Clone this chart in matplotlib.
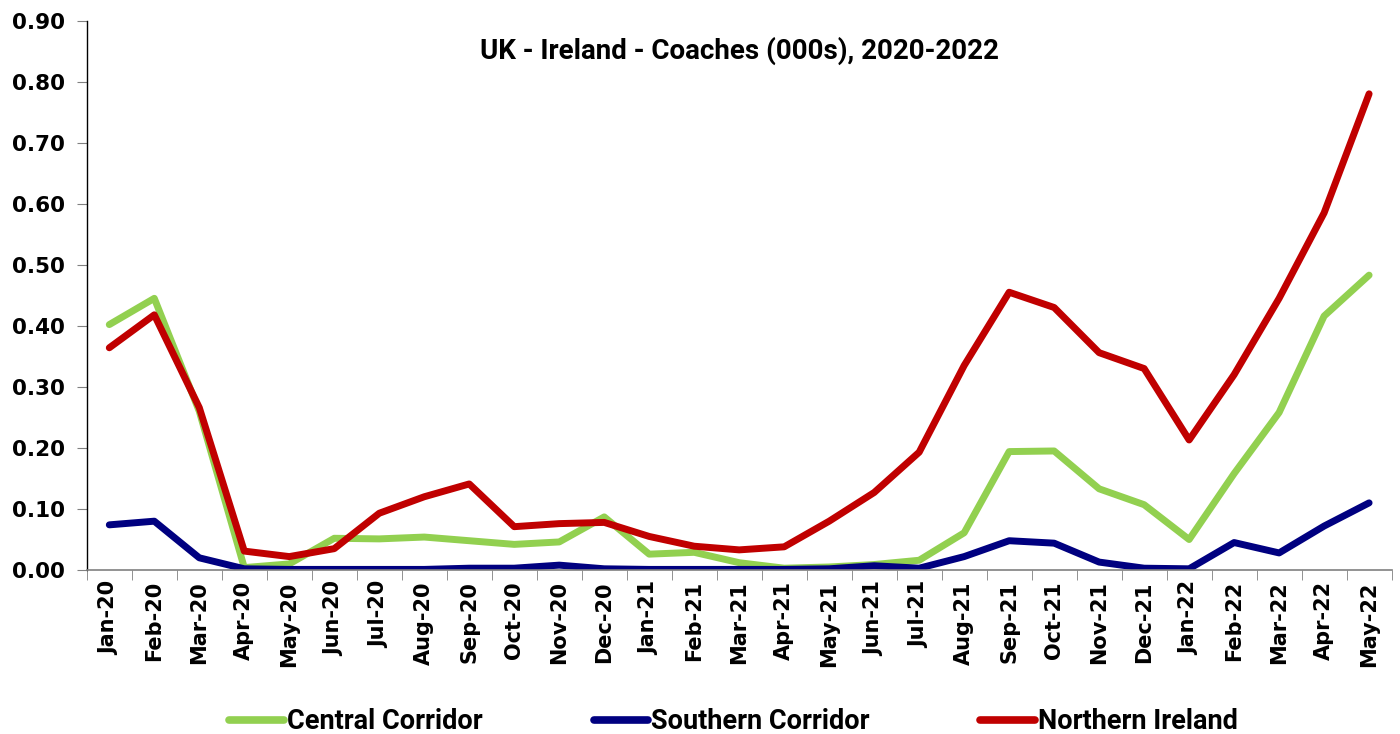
import matplotlib
matplotlib.use("Agg")
import matplotlib.pyplot as plt
from matplotlib.lines import Line2D

months = ["Jan-20", "Feb-20", "Mar-20", "Apr-20", "May-20", "Jun-20", "Jul-20", "Aug-20",
          "Sep-20", "Oct-20", "Nov-20", "Dec-20", "Jan-21", "Feb-21", "Mar-21", "Apr-21",
          "May-21", "Jun-21", "Jul-21", "Aug-21", "Sep-21", "Oct-21", "Nov-21", "Dec-21",
          "Jan-22", "Feb-22", "Mar-22", "Apr-22", "May-22"]

central = [0.402, 0.445, 0.260, 0.004, 0.010, 0.052, 0.051, 0.054, 0.048, 0.042,
           0.046, 0.087, 0.026, 0.029, 0.012, 0.003, 0.005, 0.009, 0.016, 0.061,
           0.194, 0.195, 0.133, 0.107, 0.050, 0.158, 0.258, 0.416, 0.483]
southern = [0.074, 0.080, 0.020, 0.002, 0.001, 0.001, 0.001, 0.001, 0.003, 0.003,
            0.008, 0.002, 0.001, 0.001, 0.001, 0.001, 0.002, 0.007, 0.003, 0.022,
            0.048, 0.044, 0.013, 0.003, 0.002, 0.045, 0.028, 0.072, 0.110]
northern = [0.364, 0.418, 0.266, 0.031, 0.022, 0.035, 0.093, 0.120, 0.141, 0.071,
            0.076, 0.078, 0.055, 0.039, 0.033, 0.038, 0.080, 0.127, 0.193, 0.335,
            0.455, 0.430, 0.356, 0.330, 0.213, 0.320, 0.445, 0.585, 0.780]

series_names = ["Central Corridor", "Southern Corridor", "Northern Ireland"]
colors = ["#92D050", "#000080", "#C00000"]
yticks = [0.0, 0.1, 0.2, 0.3, 0.4, 0.5, 0.6, 0.7, 0.8, 0.9]

fig = plt.figure(figsize=(14, 7.34), dpi=100)
ax = fig.add_axes([0.062, 0.2234, 0.932, 0.7486])

x = list(range(len(months)))
for vals, c, name in zip([central, southern, northern], colors, series_names):
    ax.plot(x, vals, color=c, lw=5, solid_capstyle="round", solid_joinstyle="round", label=name)

ax.set_xlim(-0.5, len(months) - 0.5)
ax.set_ylim(0, 0.9)
ax.set_yticks(yticks)
ax.set_yticklabels([f"{v:.2f}" for v in yticks], fontsize=15.5, fontweight="bold", family="DejaVu Sans")
ax.set_xticks(x)
ax.set_xticklabels(months, rotation=90, fontsize=15, fontweight="bold", family="DejaVu Sans")
ax.set_xticks([i - 0.5 for i in range(len(months) + 1)], minor=True)
ax.tick_params(axis="x", which="major", length=0, pad=8)
ax.tick_params(axis="x", which="minor", length=7, color="#808080", direction="out")
ax.tick_params(axis="y", length=7, color="#808080", pad=9)

for s in ["top", "right"]:
    ax.spines[s].set_visible(False)
ax.spines["left"].set_color("#000000")
ax.spines["left"].set_linewidth(1)
ax.spines["bottom"].set_color("#808080")
ax.spines["bottom"].set_linewidth(1.2)

ax.text(0.5, 0.945, "UK - Ireland - Coaches (000s), 2020-2022", transform=ax.transAxes,
        ha="center", va="center", fontsize=20, fontweight="bold", family="Roboto")

handles = [Line2D([0], [0], color=c, lw=5.5, solid_capstyle="round") for c in colors]
leg = fig.legend(handles, series_names, loc="center", bbox_to_anchor=(0.524, 0.017),
                 ncol=3, frameon=False, handlelength=2.0, handletextpad=0.12,
                 columnspacing=4.1, prop={"family": "Roboto", "weight": "bold", "size": 19.5})

fig.savefig("out.png", dpi=100)
